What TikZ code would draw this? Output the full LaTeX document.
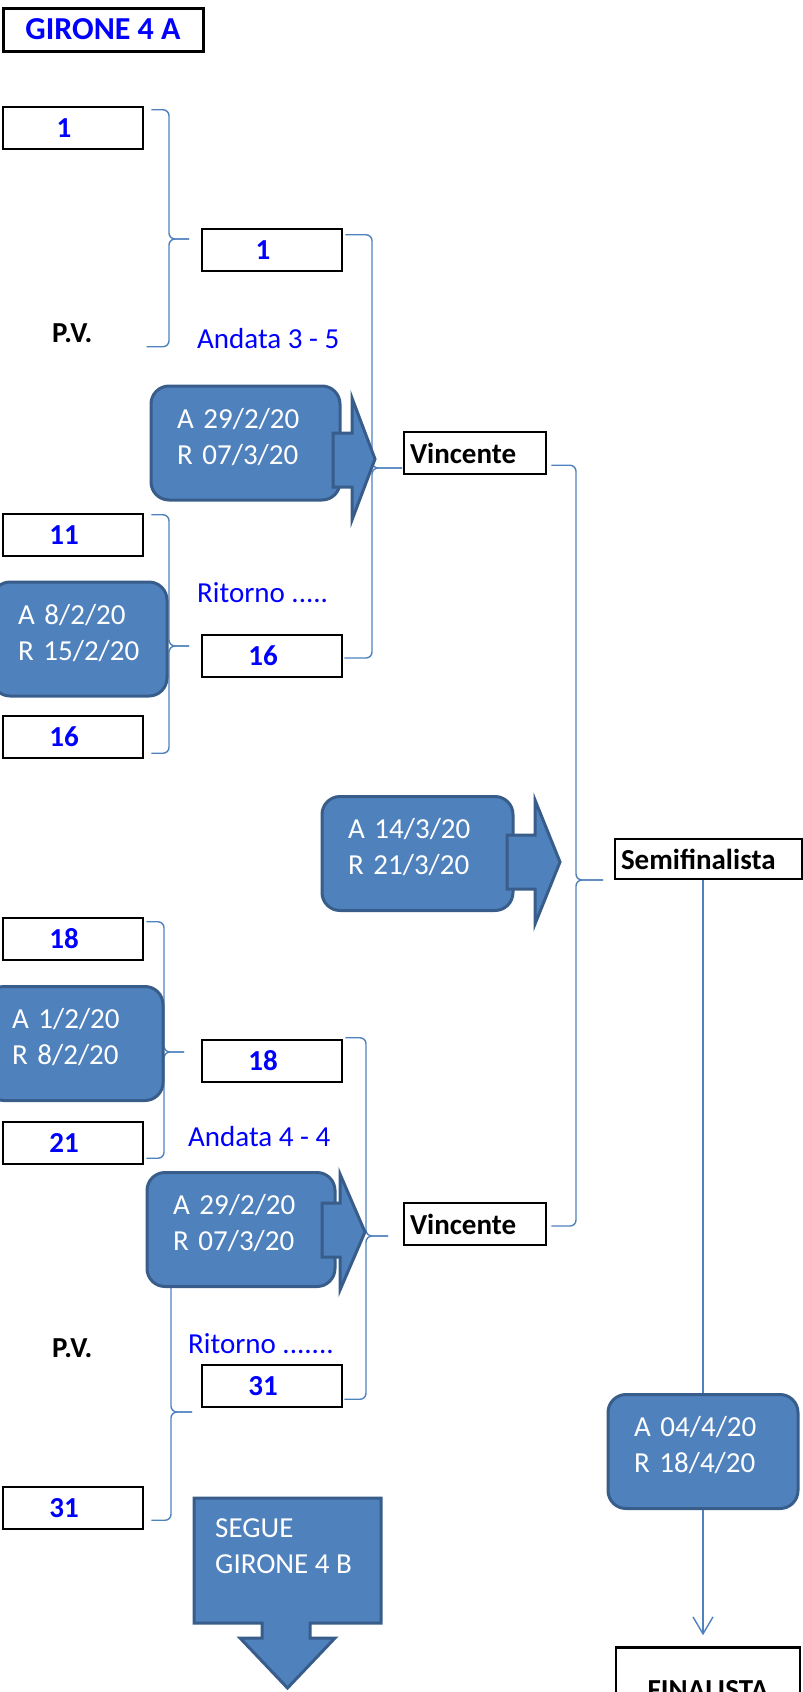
\documentclass[tikz,border=0pt]{standalone}
\usepackage{fontspec}
\setmainfont{Carlito}
\usepackage{tikz}
\usetikzlibrary{arrows.meta,shapes,backgrounds}
\definecolor{numblue}{RGB}{0,0,255}
\definecolor{boxblue}{RGB}{79,129,189}
\definecolor{edgeblue}{RGB}{56,93,138}
\definecolor{lineblue}{RGB}{79,129,189}
\newcommand{\txt}{\fontsize{29bp}{36bp}\selectfont}

\begin{document}
\begin{tikzpicture}[
  titlebox/.style={draw=black,line width=3bp,fill=white,minimum width=200bp,minimum height=43bp,inner sep=0pt,font=\fontsize{32bp}{38bp}\selectfont\bfseries,text=numblue},
  numbox/.style={draw=black,line width=2.5bp,fill=white,minimum width=140bp,minimum height=42bp,inner sep=0pt,font=\txt\bfseries,text=numblue,execute at begin node={\hspace*{-18bp}}},
  winbox/.style={draw=black,line width=2.5bp,fill=white,minimum height=42bp,inner xsep=6bp,inner ysep=0pt,align=left,font=\txt\bfseries},
  datebox/.style={draw=edgeblue,line width=3bp,fill=boxblue,rounded corners=18bp,minimum height=114bp,inner xsep=26bp,text depth=50bp,align=left,text=white,font=\txt},
  arrowpart/.style={draw=edgeblue,line width=3bp,fill=boxblue},
  brace/.style={draw=lineblue,line width=1.4bp,rounded corners=6bp},
  link/.style={draw=lineblue,line width=1.4bp},
  note/.style={font=\txt,text=numblue,inner sep=0pt,anchor=base west},
  pv/.style={font=\txt\bfseries,inner sep=0pt,anchor=base west}
]
\useasboundingbox (0bp,0bp) rectangle (803bp,-1692bp);
\clip (0bp,0bp) rectangle (803bp,-1692bp);

\node (title) at (103bp,-29.5bp)[titlebox] {GIRONE 4 A};

% first round
\node (r1a) at (73bp,-128bp)[numbox] {1};
\node (pv1) at (52bp,-342bp)[pv] {P.V.};
\node (r11) at (73bp,-535bp)[numbox] {11};
\node (r16a) at (73bp,-737bp)[numbox] {16};
\node (r18a) at (73bp,-939bp)[numbox] {18};
\node (r21) at (73bp,-1143bp)[numbox] {21};
\node (pv2) at (52bp,-1357bp)[pv] {P.V.};
\node (r31a) at (73bp,-1508bp)[numbox] {31};

% second round
\node (r1b) at (272bp,-250bp)[numbox] {1};
\node (r16b) at (272bp,-656bp)[numbox] {16};
\node (r18b) at (272bp,-1061bp)[numbox] {18};
\node (r31b) at (272bp,-1386bp)[numbox] {31};

\node (and1) at (197bp,-348bp)[note] {Andata 3 - 5};
\node (rit1) at (197bp,-602bp)[note] {Ritorno .....};
\node (and2) at (188bp,-1146bp)[note] {Andata 4 - 4};
\node (rit2) at (188bp,-1353bp)[note] {Ritorno .......};

% winners
\node (win1) at (475bp,-453bp)[winbox,text width=130bp] {Vincente};
\node (win2) at (475bp,-1224bp)[winbox,text width=130bp] {Vincente};
\node (semi) at (708.5bp,-859bp)[winbox,text width=175bp,minimum height=40bp] {Semifinalista};
\node (fin) at (708bp,-1690bp)[winbox,text width=172bp,minimum height=85bp,align=center] {FINALISTA};

% dates
\node (d1) at (245.5bp,-443bp)[datebox,text width=137bp] {A 29/2/20\\R 07/3/20};
\draw[arrowpart] (333bp,-433bp) -- (352bp,-433bp) -- (352bp,-398bp) -- (375bp,-459bp) -- (352bp,-520bp) -- (352bp,-487bp) -- (333bp,-487bp) -- cycle;
\node (d2) at (79.5bp,-639bp)[datebox,text width=123bp] {A 8/2/20\\R 15/2/20};
\node (d3) at (417.5bp,-853.5bp)[datebox,text width=139bp] {A 14/3/20\\R 21/3/20};
\draw[arrowpart] (507bp,-835bp) -- (535bp,-835bp) -- (535bp,-800bp) -- (560bp,-862bp) -- (535bp,-924bp) -- (535bp,-889bp) -- (507bp,-889bp) -- cycle;
\node (d4) at (74.5bp,-1043.5bp)[datebox,text width=125bp] {A 1/2/20\\R 8/2/20};
\node (d5) at (241bp,-1229.5bp)[datebox,text width=136bp] {A 29/2/20\\R 07/3/20};
\draw[arrowpart] (322bp,-1203bp) -- (340bp,-1203bp) -- (340bp,-1174bp) -- (365bp,-1232bp) -- (340bp,-1290bp) -- (340bp,-1257bp) -- (322bp,-1257bp) -- cycle;
\node (d6) at (703bp,-1451.5bp)[datebox,text width=138bp] {A 04/4/20\\R 18/4/20};

% next group
\draw[arrowpart] (194bp,-1498bp) -- (381bp,-1498bp) -- (381bp,-1623bp) -- (310bp,-1623bp) -- (310bp,-1638bp) -- (335bp,-1638bp) -- (287.5bp,-1688bp) -- (240bp,-1638bp) -- (262bp,-1638bp) -- (262bp,-1623bp) -- (194bp,-1623bp) -- cycle;
\node (segue) at (215bp,-1546bp)[anchor=west,align=left,text=white,font=\txt,inner sep=0pt] {SEGUE\\GIRONE 4 B};

\draw[link] (semi.south -| d6.north) -- (d6.north);
\draw[link,-{Straight Barb[length=17bp,width=20bp]},shorten >=11bp] (d6.south) -- (d6.south |- fin.north);

% brackets
\coordinate (tipA) at (189bp,-239bp);
\coordinate (tipB) at (402bp,-468bp);
\coordinate (tipC) at (189bp,-646bp);
\coordinate (tipD) at (603bp,-880bp);
\coordinate (tipE) at (184bp,-1052bp);
\coordinate (tipF) at (388bp,-1236bp);
\coordinate (tipG) at (192bp,-1412bp);
\begin{scope}[on background layer]
\draw[brace] ([shift={(7bp,-4bp)}]r1a.north east) -| ([xshift=-20bp]tipA) -- (tipA);
\draw[brace] ([shift={(54bp,-14bp)}]pv1.east) -| ([xshift=-20bp]tipA) -- (tipA);
\draw[brace] ([shift={(2bp,-7bp)}]r1b.north east) -| ([xshift=-30bp]tipB) -- (tipB);
\draw[brace] ([shift={(1bp,-2bp)}]r16b.east) -| ([xshift=-30bp]tipB) -- (tipB);
\draw[brace] ([shift={(7bp,-2bp)}]r11.north east) -| ([xshift=-20bp]tipC) -- (tipC);
\draw[brace] ([shift={(7bp,6bp)}]r16a.south east) -| ([xshift=-20bp]tipC) -- (tipC);
\draw[brace] ([shift={(4bp,10bp)}]win1.south east) -| ([xshift=-27bp]tipD) -- (tipD);
\draw[brace] ([shift={(4bp,-2bp)}]win2.east) -| ([xshift=-27bp]tipD) -- (tipD);
\draw[brace] ([shift={(2bp,-5bp)}]r18a.north east) -| ([xshift=-20bp]tipE) -- (tipE);
\draw[brace] ([shift={(2bp,7bp)}]r21.south east) -| ([xshift=-20bp]tipE) -- (tipE);
\draw[brace] ([shift={(2bp,1bp)}]r18b.north east) -| ([xshift=-22bp]tipF) -- (tipF);
\draw[brace] ([shift={(1bp,9bp)}]r31b.south east) -| ([xshift=-22bp]tipF) -- (tipF);
\draw[brace] ([shift={(3bp,12bp)}]d5.south west) -| ([xshift=-21bp]tipG) -- (tipG);
\draw[brace] ([shift={(7bp,10bp)}]r31a.south east) -| ([xshift=-21bp]tipG) -- (tipG);
\end{scope}
\end{tikzpicture}
\end{document}
